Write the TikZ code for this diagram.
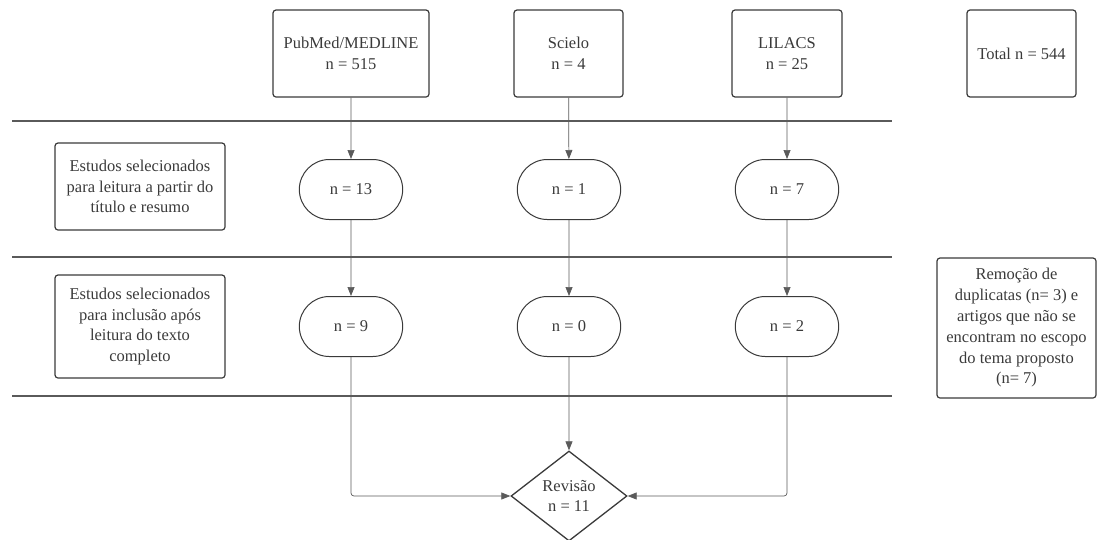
\documentclass[tikz,border=0pt]{standalone}
\usepackage{fontspec}
\setmainfont{Liberation Serif}
\usepackage{tikz}
\usetikzlibrary{shapes.misc,shapes.geometric,arrows.meta}

\definecolor{inkgray}{HTML}{3A3A3A}
\definecolor{linegray}{HTML}{5A5A5A}

\begin{document}
\begin{tikzpicture}[x=1pt,y=-1pt]
\tikzset{
  every node/.style={text=inkgray,font=\fontsize{16.5}{20.8}\selectfont,align=center},
  srcbox/.style={draw=inkgray,line width=1.2pt,rounded corners=3pt,minimum width=156pt,minimum height=87pt},
  notebox/.style={draw=inkgray,line width=1.2pt,rounded corners=3pt},
  countbox/.style={draw=inkgray,line width=1pt,rounded rectangle,minimum width=110pt,minimum height=60pt},
  flow/.style={draw=linegray,line width=0.7pt,-{Triangle[length=9pt,width=7pt]}},
  band/.style={draw=linegray,line width=1.3pt}
}
\useasboundingbox (0,0) rectangle (1098,539);
% bases de dados
\node[srcbox] (pub) at (351,53.5) {PubMed/MEDLINE\\n = 515};
\node[srcbox,minimum width=109pt] (sci) at (568.5,53.5) {Scielo\\n = 4};
\node[srcbox,minimum width=110pt] (lil) at (787,53.5) {LILACS\\n = 25};
\node[srcbox,minimum width=109pt] (tot) at (1021.5,53.5) {Total n = 544};
% faixas
\draw[band] (12,121) -- (892,121);
\draw[band] (12,257) -- (892,257);
\draw[band] (12,396) -- (892,396);
% etapa 1
\node[notebox,minimum width=170pt,minimum height=87pt] (step1) at (140,186.5)
  {Estudos selecionados\\para leitura a partir do\\título e resumo};
\node[countbox] (p13) at (351,189.5) {n = 13};
\node[countbox] (s1) at (569,189.5) {n = 1};
\node[countbox] (l7) at (787,189.5) {n = 7};
% etapa 2
\node[notebox,minimum width=170pt,minimum height=103pt] (step2) at (140,326.5)
  {Estudos selecionados\\para inclusão após\\leitura do texto\\completo};
\node[countbox] (p9) at (351,326.5) {n = 9};
\node[countbox] (s0) at (569,326.5) {n = 0};
\node[countbox] (l2) at (787,326.5) {n = 2};
\node[notebox,minimum width=159pt,minimum height=140pt,inner sep=1pt] (excl) at (1016.5,328)
  {Remoção de\\duplicatas (n= 3) e\\artigos que não se\\encontram no escopo\\do tema proposto\\(n= 7)};
% revisao
\node[draw=inkgray,line width=1.3pt,diamond,minimum width=116pt,minimum height=90pt,inner sep=0pt] (rev) at (569,496)
  {Revisão\\n = 11};
% ligacoes
\draw[flow] (pub) -- (p13);
\draw[flow] (p13) -- (p9);
\draw[flow,rounded corners=3pt] (p9) |- (rev);
\draw[flow] (sci) -- (s1);
\draw[flow] (s1) -- (s0);
\draw[flow] (s0) -- (rev);
\draw[flow] (lil) -- (l7);
\draw[flow] (l7) -- (l2);
\draw[flow,rounded corners=3pt] (l2) |- (rev);
\end{tikzpicture}
\end{document}
